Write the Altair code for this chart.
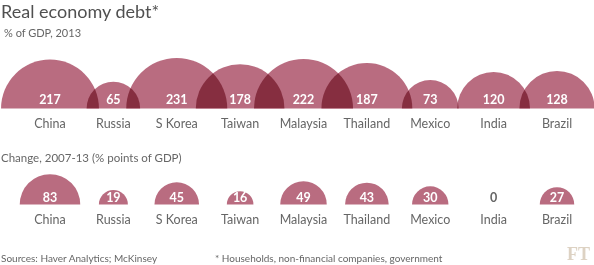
import math
import altair as alt
import pandas as pd

countries = ["China", "Russia", "S Korea", "Taiwan", "Malaysia", "Thailand", "Mexico", "India", "Brazil"]
debt_2013 = [217, 65, 231, 178, 222, 187, 73, 120, 128]
change_2007_13 = [83, 19, 45, 16, 49, 43, 30, 0, 27]
panels = ["level", "change"]

rows = []
for c, v in zip(countries, debt_2013):
    rows.append({"country": c, "panel": "level", "value": v})
for c, v in zip(countries, change_2007_13):
    rows.append({"country": c, "panel": "change", "value": v})
df = pd.DataFrame(rows)

FONT = "Lato"
FILL = "#b96c80"
GREY = "#666666"

x = alt.X("country:N", sort=countries, axis=None,
          scale=alt.Scale(type="point", range=[50, 557], padding=0))
y = alt.Y("panel:N", sort=panels, axis=None,
          scale=alt.Scale(type="point", range=[108.5, 204.5], padding=0))

base = alt.Chart(df)

arcs = base.mark_arc(
    blend="multiply", color=FILL,
    theta=1.5 * math.pi, theta2=2.5 * math.pi,
).encode(
    x=x, y=y,
    radius=alt.Radius("value:Q", stack=False,
                      scale=alt.Scale(type="sqrt", domain=[0, 231], range=[0, 50.5], zero=True)),
)

val_color = alt.condition("datum.value > 0", alt.value("white"), alt.value(GREY))

vals_top = base.transform_filter("datum.panel == 'level'").mark_text(
    font=FONT, fontSize=12.5, fontWeight="bold", baseline="alphabetic", dy=-4.5
).encode(x=x, y=y, text="value:Q", color=val_color)

vals_bot = base.transform_filter("datum.panel == 'change'").mark_text(
    font=FONT, fontSize=12.5, fontWeight="bold", baseline="alphabetic", dy=-2.5
).encode(x=x, y=y, text="value:Q", color=val_color)

labels = base.mark_text(
    font=FONT, fontSize=12.5, baseline="alphabetic", dy=19, color=GREY
).encode(x=x, y=y, text="country:N")

def note(txt, xv, yv, size, color=GREY, font=FONT, weight="normal", align="left"):
    return alt.Chart(pd.DataFrame({"t": [txt]})).mark_text(
        font=font, fontSize=size, fontWeight=weight, align=align,
        baseline="alphabetic", color=color
    ).encode(x=alt.value(xv), y=alt.value(yv), text="t:N")

title = note("Real economy debt*", 1, 17.5, 18, color="#505050")
subtitle = note("% of GDP, 2013", 4, 36.5, 11)
change_t = note("Change, 2007-13 (% points of GDP)", 1, 161.5, 11.5)
source = note("Sources: Haver Analytics; McKinsey", 1, 262, 10)
footnote = note("* Households, non-financial companies, government", 215, 262, 10)
ft = note("FT", 590, 260, 18, color="#ddd2c3", font="Liberation Serif", weight="bold", align="right")

chart = alt.layer(
    arcs, vals_top, vals_bot, labels, title, subtitle, change_t, source, footnote, ft
).properties(
    width=594, height=265,
    autosize=alt.AutoSizeParams(type="none"),
    padding=0,
).configure_view(stroke=None)

chart.save("out.html", embed_options={"renderer": "svg", "actions": False})
